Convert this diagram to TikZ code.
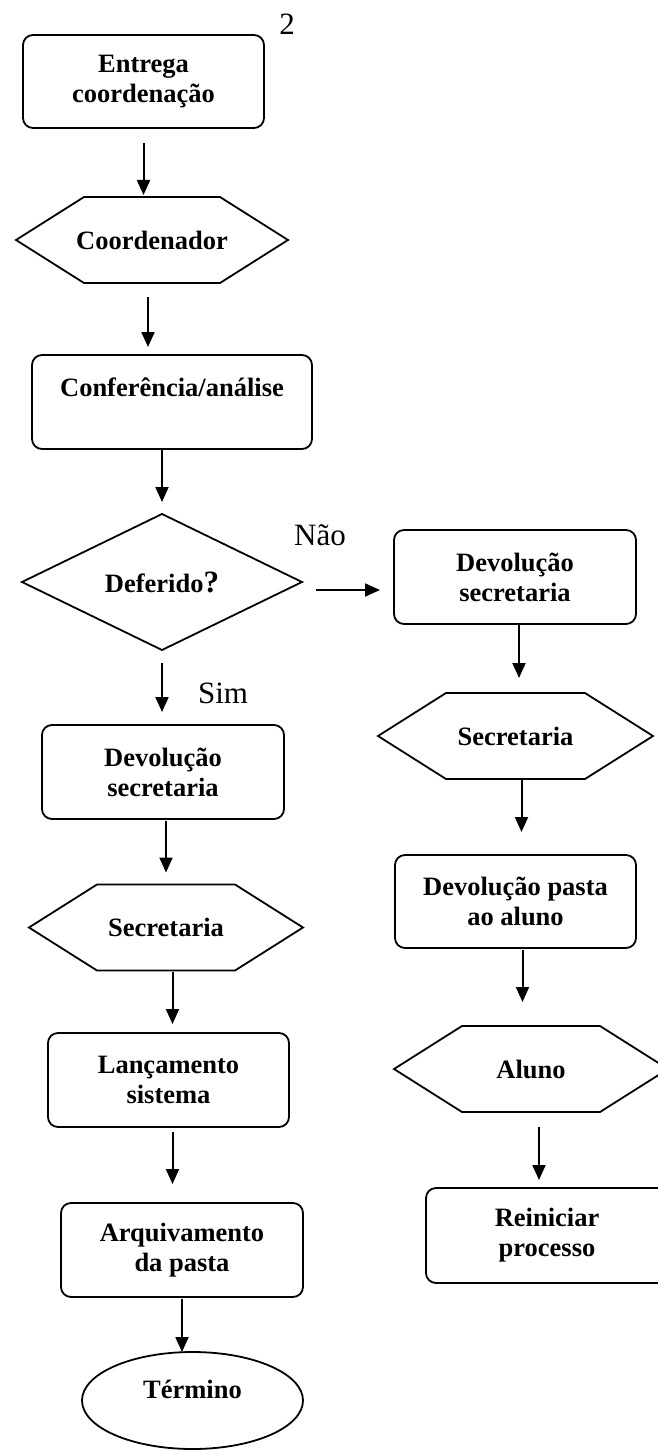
\documentclass[tikz,border=0pt]{standalone}
\usepackage{fontspec}
\setmainfont{Liberation Serif}
\usetikzlibrary{arrows.meta,shapes.geometric}
\newcommand\hexframe[1]{\draw[shapeline] (#1.west) -- ([xshift=68pt]#1.north west) -- ([xshift=-68pt]#1.north east) -- (#1.east) -- ([xshift=-68pt]#1.south east) -- ([xshift=68pt]#1.south west) -- cycle;}
\tikzset{
  shapeline/.style={line width=1.8pt},
  txt/.style={font=\bfseries\fontsize{26.5}{30}\selectfont, align=center, inner sep=0pt, outer sep=0pt},
  box/.style={txt, draw, shapeline, rounded corners=10pt},
  hexn/.style={txt, rectangle, minimum height=86pt},
  lab/.style={font=\fontsize{31}{31}\selectfont, inner sep=0pt},
  arr/.style={line width=2pt, -{Triangle[length=15pt,width=13pt]}}
}
\begin{document}
\begin{tikzpicture}[x=1pt,y=-1pt]
\useasboundingbox (0,0) rectangle (658,1450);
\clip (0,0) rectangle (658,1450);
% page number
\node[lab] (pg) at (287,24) {2};
% left column
\node[box, minimum width=241pt, minimum height=93pt] (e) at (143.5,81.5) {Entrega\\coordenação};
\node[hexn, minimum width=272pt] (c) at (152,240) {Coordenador};
\hexframe{c}
\node[box, minimum width=280pt, minimum height=94pt] (k) at (172,402) {Conferência/análise\\~};
\node[txt, diamond, draw, shapeline, minimum width=280pt, minimum height=136pt] (d) at (162,582) {Deferido{\fontsize{31}{30}\selectfont ?}};
\node[box, minimum width=242pt, minimum height=94pt] (l1) at (163,772) {Devolução\\secretaria};
\node[hexn, minimum width=274pt] (hl) at (166,927.5) {Secretaria};
\hexframe{hl}
\node[box, minimum width=241pt, minimum height=94pt] (l3) at (168.5,1080) {Lançamento\\sistema};
\node[box, minimum width=242pt, minimum height=94pt] (l4) at (182,1250) {Arquivamento\\da pasta};
\node[txt, ellipse, draw, shapeline, minimum width=221pt, minimum height=97pt] (t) at (192.5,1400.5) {Término\\[-8pt]~};
% right column
\node[box, minimum width=242pt, minimum height=94pt] (r1) at (515,577) {Devolução\\secretaria};
\node[hexn, minimum width=275pt] (hr) at (515.5,736) {Secretaria};
\hexframe{hr}
\node[box, minimum width=241pt, minimum height=93pt] (r3) at (515.5,901.5) {Devolução pasta\\ao aluno};
\node[hexn, minimum width=274pt] (ha) at (531,1069) {Aluno};
\hexframe{ha}
\node[box, minimum width=242pt, minimum height=95pt] (r5) at (547,1235.5) {Reiniciar\\processo};
% labels
\node[lab] (nao) at (320,535) {Não};
\node[lab] (sim) at (223,693) {Sim};
% arrows
\draw[arr, shorten <=15pt, shorten >=2pt] (e.south) -- (e.south |- c.north);
\draw[arr, shorten <=14pt, shorten >=8pt] ([xshift=-4pt]c.south) -- ([xshift=-4pt]c.south |- k.north);
\draw[arr, shorten <=1pt, shorten >=12pt] (d.north |- k.south) -- (d.north);
\draw[arr, shorten <=14pt, shorten >=14pt] ([yshift=-8pt]d.east) -- ([yshift=-8pt]d.east -| r1.west);
\draw[arr, shorten <=13pt, shorten >=13pt] (d.south) -- (d.south |- l1.north);
\draw[arr, shorten <=2pt, shorten >=12pt] ([xshift=3pt]l1.south) -- ([xshift=3pt]l1.south |- hl.north);
\draw[arr, shorten <=1pt, shorten >=9pt] ([xshift=4pt]l3.north |- hl.south) -- ([xshift=4pt]l3.north);
\draw[arr, shorten <=5pt, shorten >=19pt] ([xshift=4pt]l3.south) -- ([xshift=4pt]l3.south |- l4.north);
\draw[arr, shorten <=2pt, shorten >=0pt] (l4.south) -- (l4.south |- t.north);
\draw[arr, shorten <=1pt, shorten >=15pt] ([xshift=4pt]r1.south) -- ([xshift=4pt]r1.south |- hr.north);
\draw[arr, shorten <=1pt, shorten >=23pt] ([xshift=6pt]hr.south) -- ([xshift=6pt]hr.south |- r3.north);
\draw[arr, shorten <=2pt, shorten >=24pt] ([xshift=7pt]r3.south) -- ([xshift=7pt]r3.south |- ha.north);
\draw[arr, shorten <=15pt, shorten >=8pt] ([xshift=-8pt]r5.north |- ha.south) -- ([xshift=-8pt]r5.north);
\end{tikzpicture}
\end{document}
